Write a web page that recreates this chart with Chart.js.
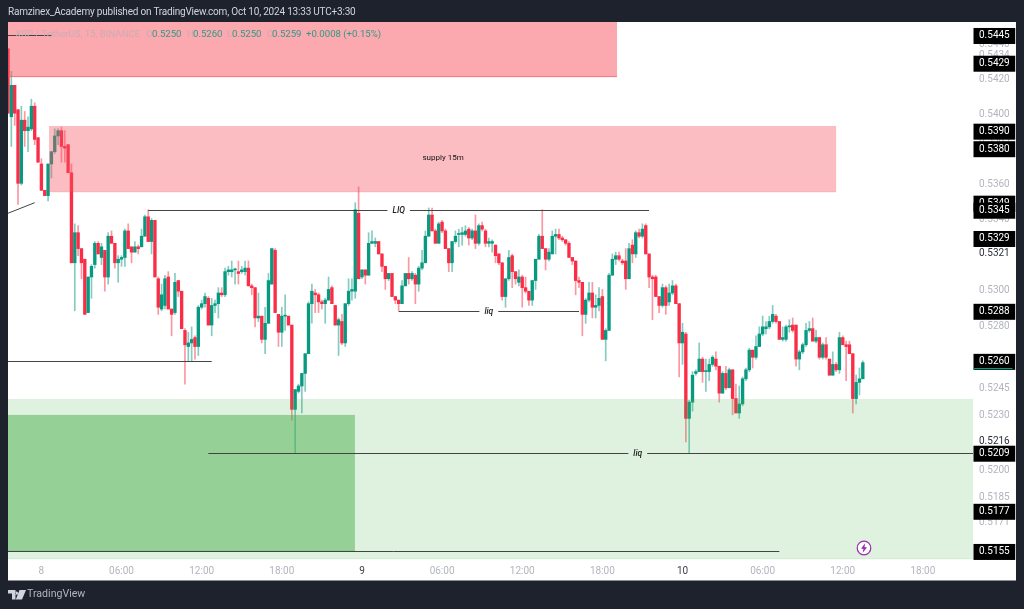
<!DOCTYPE html>
<html>
<head>
<meta charset="utf-8">
<script src="https://cdn.jsdelivr.net/npm/chart.js@4/dist/chart.umd.min.js"></script>
<style>
html,body{margin:0;padding:0;background:#1e222d;width:1024px;height:609px;overflow:hidden;font-family:Roboto,"Liberation Sans",sans-serif}
canvas{position:absolute;left:0;top:0}
.t{position:absolute;white-space:nowrap;line-height:12px}
#hdr{left:8px;top:6px;font-size:10px;letter-spacing:-.2px;color:#d1d4dc}
.lg{top:27.5px;font-size:9.6px;color:#2f9a85}
.lg.f{color:#c9aeb4}
#tv{left:27px;top:587px;font-size:10.6px;color:#b2b5be;line-height:14px}
svg{position:absolute}
</style>
</head>
<body>
<canvas id="c" width="1024" height="609"></canvas>
<div class="t" id="hdr">Ramzinex_Academy published on TradingView.com, Oct 10, 2024 13:33 UTC+3:30</div>
<div class="t lg f" style="left:15px">XRP / TetherUS, 15, BINANCE</div>
<div class="t lg f" style="left:146px">O</div><div class="t lg" style="left:152px">0.5250</div>
<div class="t lg f" style="left:187px">H</div><div class="t lg" style="left:193px">0.5260</div>
<div class="t lg f" style="left:227px">L</div><div class="t lg" style="left:232px">0.5250</div>
<div class="t lg f" style="left:267px">C</div><div class="t lg" style="left:272px">0.5259</div>
<div class="t lg" style="left:306px">+0.0008 (+0.15%)</div>
<svg style="left:8px;top:590px" width="18" height="10" viewBox="0 0 18 10"><path fill="#d1d4dc" d="M0 0h7.5v9.5H4V3.5H0zM8.5 1.6a1.6 1.6 0 1 0 0.01 0zM11.5 0H18l-4 9.5H7.8z"/></svg>
<div class="t" id="tv">TradingView</div>
<svg style="left:856px;top:540px" width="16" height="16" viewBox="0 0 16 16"><circle cx="8" cy="8" r="6.8" fill="#fff" stroke="#9c27b0" stroke-width="1.2"/><path fill="#9c27b0" d="M9 3.2 5 8.8h2.4L6.8 12.8 11 7.2H8.5z"/></svg>
<script>
const opens=[.5437,.5398,.5416,.5402,.5360,.5396,.5390,.5391,.5404,.5386,
.5371,.5356,.5353,.5371,.5378,.5387,.5390,.5381,.5382,.5366,
.5315,.5332,.5323,.5317,.5287,.5307,.5314,.5326,.5318,.5322,
.5307,.5330,.5326,.5315,.5317,.5318,.5333,.5324,.5321,.5324,
.5324,.5330,.5341,.5327,.5339,.5306,.5289,.5291,.5307,.5289,
.5287,.5305,.5299,.5277,.5268,.5270,.5273,.5268,.5290,.5292,
.5295,.5280,.5291,.5292,.5298,.5297,.5310,.5310,.5311,.5310,
.5310,.5310,.5312,.5302,.5301,.5284,.5285,.5272,.5281,.5303,
.5322,.5286,.5276,.5285,.5285,.5280,.5233,.5243,.5246,.5253,
.5264,.5292,.5298,.5297,.5293,.5292,.5294,.5301,.5291,.5280,
.5282,.5270,.5292,.5299,.5299,.5343,.5307,.5311,.5308,.5326,
.5326,.5327,.5320,.5313,.5306,.5309,.5296,.5294,.5292,.5302,
.5309,.5306,.5308,.5303,.5312,.5315,.5330,.5342,.5333,.5326,
.5338,.5333,.5323,.5315,.5327,.5331,.5331,.5331,.5334,.5329,
.5333,.5326,.5336,.5333,.5326,.5326,.5325,.5320,.5315,.5296,
.5306,.5319,.5310,.5304,.5307,.5301,.5299,.5294,.5305,.5317,
.5330,.5323,.5317,.5320,.5330,.5331,.5329,.5328,.5326,.5318,
.5316,.5305,.5304,.5286,.5294,.5298,.5290,.5291,.5296,.5272,
.5277,.5308,.5317,.5319,.5316,.5316,.5306,.5325,.5320,.5332,
.5330,.5336,.5320,.5307,.5307,.5296,.5291,.5301,.5293,.5298,
.5302,.5292,.5270,.5275,.5228,.5237,.5253,.5254,.5261,.5254,
.5254,.5258,.5261,.5257,.5242,.5253,.5245,.5255,.5239,.5231,
.5236,.5250,.5255,.5266,.5262,.5268,.5275,.5278,.5279,.5282,
.5285,.5282,.5272,.5272,.5279,.5280,.5280,.5261,.5265,.5269,
.5277,.5278,.5271,.5273,.5262,.5269,.5261,.5252,.5258,.5255,
.5273,.5269,.5269,.5264,.5239,.5248,.5250];
const closes=[.5400,.5416,.5400,.5360,.5396,.5390,.5392,.5404,.5385,.5372,
.5356,.5353,.5371,.5378,.5387,.5390,.5381,.5380,.5366,.5315,
.5332,.5323,.5315,.5286,.5307,.5313,.5326,.5320,.5324,.5307,
.5330,.5326,.5315,.5317,.5318,.5333,.5323,.5321,.5324,.5323,
.5330,.5341,.5327,.5339,.5307,.5290,.5297,.5306,.5289,.5286,
.5304,.5299,.5278,.5269,.5270,.5272,.5268,.5290,.5292,.5296,
.5280,.5291,.5292,.5298,.5297,.5310,.5311,.5311,.5311,.5309,
.5311,.5312,.5302,.5301,.5284,.5285,.5272,.5281,.5305,.5323,
.5287,.5276,.5285,.5285,.5280,.5233,.5244,.5246,.5253,.5264,
.5292,.5299,.5297,.5293,.5292,.5294,.5300,.5292,.5280,.5283,
.5270,.5292,.5299,.5300,.5345,.5306,.5311,.5308,.5326,.5327,
.5327,.5320,.5313,.5306,.5309,.5296,.5294,.5292,.5302,.5309,
.5306,.5309,.5303,.5312,.5315,.5330,.5342,.5333,.5326,.5337,
.5333,.5323,.5315,.5327,.5330,.5331,.5332,.5333,.5329,.5333,
.5326,.5336,.5334,.5326,.5327,.5327,.5319,.5315,.5296,.5306,
.5318,.5310,.5306,.5307,.5301,.5299,.5294,.5305,.5317,.5330,
.5323,.5317,.5321,.5330,.5331,.5329,.5328,.5326,.5318,.5316,
.5305,.5304,.5286,.5294,.5298,.5290,.5291,.5295,.5272,.5277,
.5308,.5317,.5319,.5317,.5315,.5306,.5323,.5320,.5332,.5330,
.5334,.5320,.5307,.5306,.5296,.5291,.5301,.5291,.5298,.5302,
.5292,.5270,.5276,.5228,.5237,.5252,.5254,.5261,.5254,.5254,
.5258,.5262,.5257,.5242,.5253,.5245,.5255,.5239,.5231,.5236,
.5250,.5255,.5266,.5262,.5268,.5275,.5279,.5279,.5282,.5286,
.5282,.5272,.5273,.5279,.5279,.5277,.5261,.5265,.5269,.5277,
.5278,.5271,.5273,.5262,.5269,.5262,.5252,.5258,.5255,.5273,
.5269,.5268,.5264,.5239,.5248,.5250,.5259];
const highs=[.5437,.5424,.5416,.5402,.5404,.5401,.5398,.5408,.5406,.5386,
.5374,.5356,.5371,.5378,.5391,.5391,.5392,.5390,.5382,.5371,
.5337,.5336,.5323,.5317,.5307,.5314,.5327,.5327,.5326,.5322,
.5332,.5333,.5326,.5319,.5319,.5334,.5337,.5324,.5327,.5325,
.5334,.5342,.5345,.5340,.5339,.5307,.5303,.5308,.5310,.5289,
.5309,.5305,.5299,.5278,.5276,.5279,.5274,.5291,.5294,.5298,
.5296,.5295,.5294,.5301,.5301,.5312,.5313,.5316,.5312,.5316,
.5313,.5316,.5316,.5303,.5301,.5298,.5285,.5290,.5309,.5323,
.5323,.5286,.5290,.5297,.5285,.5280,.5244,.5247,.5253,.5264,
.5293,.5303,.5300,.5298,.5294,.5295,.5307,.5302,.5291,.5284,
.5286,.5292,.5306,.5306,.5349,.5358,.5311,.5311,.5332,.5333,
.5329,.5327,.5320,.5313,.5309,.5309,.5296,.5294,.5305,.5309,
.5318,.5310,.5309,.5313,.5322,.5333,.5346,.5346,.5334,.5338,
.5339,.5334,.5323,.5327,.5333,.5334,.5335,.5336,.5335,.5334,
.5342,.5337,.5338,.5334,.5329,.5328,.5325,.5320,.5315,.5306,
.5322,.5320,.5310,.5311,.5308,.5307,.5299,.5305,.5317,.5331,
.5345,.5323,.5323,.5333,.5334,.5334,.5330,.5328,.5327,.5318,
.5316,.5307,.5304,.5295,.5304,.5304,.5297,.5301,.5300,.5278,
.5309,.5320,.5321,.5321,.5317,.5323,.5326,.5328,.5333,.5334,
.5337,.5337,.5320,.5308,.5308,.5296,.5303,.5302,.5303,.5305,
.5303,.5292,.5281,.5276,.5238,.5254,.5255,.5270,.5262,.5261,
.5261,.5263,.5265,.5257,.5254,.5257,.5256,.5255,.5247,.5246,
.5251,.5256,.5267,.5266,.5274,.5279,.5285,.5282,.5285,.5291,
.5286,.5282,.5279,.5280,.5283,.5284,.5280,.5266,.5270,.5281,
.5282,.5284,.5277,.5273,.5270,.5273,.5261,.5265,.5259,.5276,
.5274,.5271,.5271,.5264,.5252,.5256,.5260];
const lows=[.5400,.5381,.5393,.5348,.5359,.5381,.5378,.5390,.5382,.5372,
.5356,.5353,.5350,.5363,.5377,.5382,.5372,.5372,.5366,.5315,
.5288,.5319,.5306,.5286,.5287,.5295,.5312,.5320,.5314,.5299,
.5303,.5326,.5312,.5304,.5313,.5313,.5323,.5315,.5321,.5320,
.5324,.5330,.5327,.5320,.5307,.5286,.5288,.5289,.5289,.5274,
.5286,.5296,.5278,.5247,.5260,.5260,.5261,.5263,.5289,.5290,
.5280,.5274,.5287,.5284,.5296,.5296,.5308,.5307,.5303,.5303,
.5309,.5308,.5302,.5297,.5279,.5282,.5270,.5264,.5281,.5303,
.5287,.5268,.5268,.5277,.5280,.5227,.5209,.5242,.5231,.5243,
.5264,.5281,.5287,.5287,.5289,.5281,.5294,.5292,.5280,.5263,
.5269,.5268,.5291,.5294,.5295,.5306,.5306,.5303,.5308,.5326,
.5324,.5320,.5310,.5300,.5305,.5296,.5292,.5288,.5292,.5302,
.5303,.5305,.5292,.5299,.5311,.5315,.5330,.5333,.5326,.5326,
.5332,.5323,.5310,.5310,.5326,.5324,.5325,.5330,.5325,.5328,
.5323,.5325,.5333,.5324,.5324,.5321,.5315,.5314,.5294,.5290,
.5305,.5301,.5303,.5302,.5290,.5298,.5291,.5291,.5300,.5317,
.5323,.5311,.5316,.5320,.5320,.5328,.5327,.5325,.5318,.5314,
.5297,.5301,.5274,.5281,.5293,.5284,.5284,.5288,.5272,.5260,
.5277,.5308,.5314,.5316,.5314,.5300,.5306,.5315,.5318,.5329,
.5329,.5320,.5301,.5283,.5296,.5287,.5290,.5286,.5291,.5297,
.5292,.5251,.5258,.5215,.5209,.5232,.5252,.5254,.5248,.5243,
.5249,.5257,.5255,.5237,.5242,.5244,.5245,.5230,.5231,.5228,
.5235,.5249,.5254,.5256,.5261,.5268,.5274,.5275,.5278,.5281,
.5281,.5272,.5271,.5271,.5276,.5276,.5257,.5255,.5264,.5268,
.5276,.5271,.5270,.5261,.5261,.5261,.5252,.5252,.5254,.5253,
.5269,.5249,.5264,.5231,.5236,.5241,.5250];

// time axis: one slot per 15-minute bar, only the labelled bars have text
const slotCount=290;
const timeBars=[10,34,58,82,106,130,154,178,202,226,250,274];
const timeText=['8','06:00','12:00','18:00','9','06:00','12:00','18:00','10','06:00','12:00','18:00'];
const dayText=['9','10'];

// price axis
const plainTicks=[.5440,.5434,.5420,.5400,.5385,.5360,.5340,.5300,.5280,.5245,.5230,.5200,.5185,.5171];
const darkTicks=[.5321,.5216];
const boxedTicks=[.5445,.5429,.5390,.5380,.5349,.5345,.5329,.5288,.5260,.5209,.5177,.5155];
const priceMin=.51506, priceMax=.54525;

// drawn zones: bar range and price range
const zoneFrom=[0,12.3,0,0];
const zoneTo=[182.4,248,289,103.9];
const zoneHigh=[.54525,.53927,.52388,.52299];
const zoneLow=[.5421,.53551,.51506,.5155];
const zoneFill=['rgba(247,82,95,.5)','rgba(247,82,95,.38)','rgba(76,175,80,.18)','rgba(76,175,80,.5)'];
const zoneEdge=['rgba(247,82,95,.75)','rgba(247,82,95,.2)','rgba(76,175,80,.1)','rgba(76,175,80,.3)'];

// drawn lines: bar range, price at each end, optional text and its bar position
const lineFrom=[0,0,42,117,0,60,0];
const lineTo=[8,13,192,171,61,289,231];
const lineStart=[.5343,.5445,.5345,.5288,.5260,.5209,.5155];
const lineEnd=[.5349,.5445,.5345,.5288,.5260,.5209,.5155];
const lineText=['','','LIQ','liq','','liq',''];
const lineTextBar=[0,0,117,144,0,188.6,0];

const isUp=opens.map((o,i)=>closes[i]>=o);
const UP='#089981',DOWN='#fb2d46',UP_W='rgba(8,153,129,.5)',DOWN_W='rgba(251,45,70,.5)';

const labels=Array.from({length:slotCount},(_,i)=>{const k=timeBars.indexOf(i);return k<0?'':timeText[k]});

const studio={id:'studio',
 beforeDraw(ch){const c=ch.ctx;c.save();c.fillStyle='#1e222d';c.fillRect(0,0,1024,609);c.fillStyle='#fff';c.fillRect(8,22,1008,558);c.fillStyle='#8a8d96';c.fillRect(8,580,1008,1);c.restore()},
 afterDatasetsDraw(ch){
  const c=ch.ctx,x=ch.scales.x,y=ch.scales.y;
  c.save();
  zoneFill.forEach((f,i)=>{
    const l=x.getPixelForValue(zoneFrom[i]),r=x.getPixelForValue(zoneTo[i]),t=y.getPixelForValue(zoneHigh[i]),b=y.getPixelForValue(zoneLow[i]);
    c.fillStyle=f;c.fillRect(l,t,r-l,b-t);
    c.fillStyle=zoneEdge[i];c.fillRect(l,b-.5,r-l,1);
  });
  c.fillStyle='#111';c.font='8px Roboto';c.textAlign='center';c.textBaseline='middle';
  c.fillText('supply 15m',x.getPixelForValue(130.3),y.getPixelForValue(.53744));
  c.strokeStyle='#444';c.lineWidth=1;
  lineFrom.forEach((a,i)=>{
    const x0=x.getPixelForValue(a),x1=x.getPixelForValue(lineTo[i]);
    let y0=y.getPixelForValue(lineStart[i]),y1=y.getPixelForValue(lineEnd[i]);
    if(y0===y1){y0=y1=Math.round(y0)+.5}
    const seg=(p,q)=>{c.beginPath();c.moveTo(p,y0);c.lineTo(q,y1);c.stroke()};
    if(lineText[i]){
      c.font='italic 500 8.5px Roboto';
      const cx=x.getPixelForValue(lineTextBar[i]);
      const w=c.measureText(lineText[i]).width/2+5;
      seg(x0,cx-w);seg(cx+w,x1);
      c.fillStyle='#222';c.fillText(lineText[i],cx,y0);
    } else seg(x0,x1);
  });
  // current price stripe under its label
  c.fillStyle='#089981';c.fillRect(973,368,39.5,1);
  c.restore();
 }
};

new Chart(document.getElementById('c'),{
 type:'bar',
 plugins:[studio],
 data:{labels,datasets:[
  {label:'Wick',order:2,grouped:false,barThickness:1,data:highs.map((h,i)=>[lows[i],h]),backgroundColor:isUp.map(u=>u?UP_W:DOWN_W)},
  {label:'Body',order:1,grouped:false,barThickness:2.7,minBarLength:1,data:opens.map((o,i)=>[o,closes[i]]),backgroundColor:isUp.map(u=>u?UP:DOWN)}
 ]},
 options:{
  responsive:false,animation:false,events:[],
  layout:{padding:{left:8,top:22,right:8,bottom:29}},
  plugins:{legend:{display:false},tooltip:{enabled:false},title:{display:false}},
  scales:{
   x:{type:'category',offset:false,grid:{display:false,drawTicks:false},border:{display:false},
      afterFit(s){s.height=21},
      ticks:{autoSkip:false,maxRotation:0,minRotation:0,padding:6,font:{family:'Roboto',size:10},
        color:c=>dayText.includes(c.tick.label)?'#3a3e49':'#b2b5be',
        callback(v){return this.getLabelForValue(v)}}},
   y:{type:'logarithmic',bounds:'data',position:'right',min:priceMin,max:priceMax,grid:{display:false,drawTicks:false},border:{display:false},
      afterFit(s){s.width=43},
      afterBuildTicks(s){s.ticks=plainTicks.concat(darkTicks,boxedTicks).map(value=>({value}))},
      ticks:{autoSkip:false,padding:6,labelOffset:1,font:{family:'Roboto',size:10},
        callback:v=>Number(v).toFixed(4),
        color:c=>boxedTicks.includes(c.tick.value)?'#fff':darkTicks.includes(c.tick.value)?'#2a2e39':'#b2b5be',
        showLabelBackdrop:c=>boxedTicks.includes(c.tick.value),
        backdropColor:'#000',backdropPadding:{left:5.5,right:5.5,top:2,bottom:2}}}
  }
 }
});
</script>
</body>
</html>
